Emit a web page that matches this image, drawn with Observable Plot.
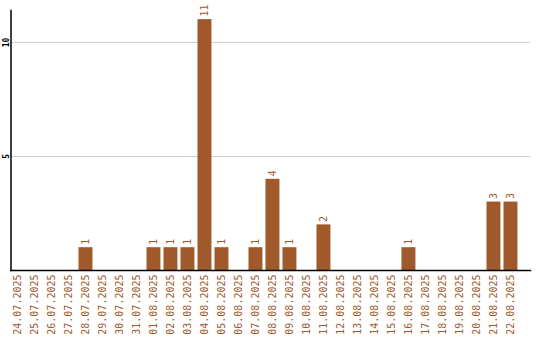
<!DOCTYPE html>
<html><head><meta charset="utf-8">
<script src="https://cdn.jsdelivr.net/npm/d3@7"></script>
<script src="https://cdn.jsdelivr.net/npm/@observablehq/plot@0.6"></script>
<style>body{margin:0;background:#fff}</style>
</head><body><div id="chart"></div>
<script>
const dates = ["24.07.2025","25.07.2025","26.07.2025","27.07.2025","28.07.2025","29.07.2025","30.07.2025","31.07.2025","01.08.2025","02.08.2025","03.08.2025","04.08.2025","05.08.2025","06.08.2025","07.08.2025","08.08.2025","09.08.2025","10.08.2025","11.08.2025","12.08.2025","13.08.2025","14.08.2025","15.08.2025","16.08.2025","17.08.2025","18.08.2025","19.08.2025","20.08.2025","21.08.2025","22.08.2025"];
const counts = [0,0,0,0,1,0,0,0,1,1,1,11,1,0,1,4,1,0,2,0,0,0,0,1,0,0,0,0,3,3];
const yTicks = [5, 10];

const data = dates.map((d, i) => ({date: d, value: counts[i]}));
const color = "#a0592a";

const chart = Plot.plot({
  width: 540, height: 340,
  marginLeft: 10.5, marginRight: 10, marginTop: 10, marginBottom: 70,
  style: {background: "#fff", fontFamily: "'DejaVu Sans Mono', monospace"},
  x: {domain: dates, paddingInner: 0.18, paddingOuter: 0.37, align: 0, round: false, label: null},
  y: {domain: [0, 11.4], label: null},
  marks: [
    Plot.gridY(yTicks, {stroke: "#ccc", strokeOpacity: 1, strokeWidth: 1}),
    Plot.barY(data, {x: "date", y: "value", fill: color}),
    Plot.text(data.filter(d => d.value > 0), {x: "date", y: "value", text: d => String(d.value), rotate: -90, textAnchor: "start", dy: -3, fill: color, fontSize: 10, fontFamily: "'DejaVu Sans Mono', monospace"}),
    Plot.axisX({tickRotate: -90, tickSize: 0, tickPadding: 4, fill: color, fontSize: 10, fontFamily: "'DejaVu Sans Mono', monospace", label: null}),
    Plot.axisY(yTicks, {tickRotate: -90, tickSize: 0, tickPadding: 2, fill: "#000", fontSize: 8, fontWeight: "bold", fontFamily: "'DejaVu Sans Mono', monospace", label: null}),
    Plot.frame({anchor: "left", stroke: "#000", strokeWidth: 1.5}),
    Plot.frame({anchor: "bottom", stroke: "#000", strokeWidth: 1.5})
  ]
});
document.getElementById("chart").appendChild(chart);
</script>
</body></html>
